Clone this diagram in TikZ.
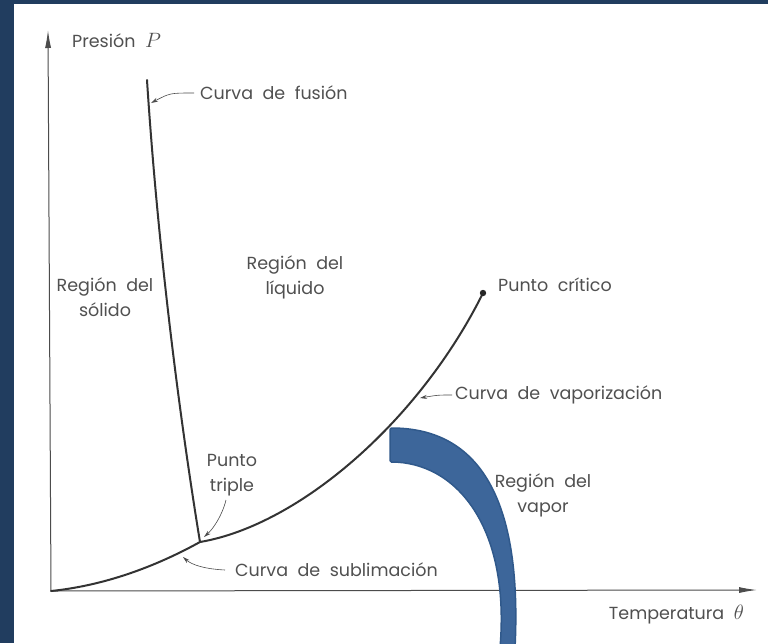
\documentclass[tikz,border=0pt]{standalone}
\usepackage{fontspec}
\setmainfont{Poppins}
\usetikzlibrary{arrows.meta}
\definecolor{frameblue}{HTML}{213D5F}
\definecolor{ink}{HTML}{505050}
\definecolor{arcfill}{HTML}{3D669A}
\definecolor{arcedge}{HTML}{30598B}
\newcommand\lblfont{\fontsize{17.5}{25}\selectfont\setlength{\spaceskip}{9.5pt plus 2pt minus 1pt}}
\newcommand\mathbig{\fontsize{20}{25}\selectfont}
\begin{document}
\begin{tikzpicture}[x=1pt,y=-1pt,
  lbl/.style={font=\lblfont, text=ink, inner sep=0pt},
  curve/.style={line width=2pt, draw=black!80, line cap=round},
  axisline/.style={line width=1pt, draw=black!70, -{Latex[length=18pt,width=6pt]}},
  ptr/.style={line width=0.6pt, draw=black!70, -{Stealth[length=7pt,width=4pt]}}]
\useasboundingbox (0,0) rectangle (768,643);
\fill[frameblue] (0,0) rectangle (768,643);
\fill[white] (14,4) rectangle (768,643);

% key points
\coordinate (O) at (51,591);
\coordinate (Ytip) at (48,30);
\coordinate (Xtip) at (757,590);
\coordinate (T) at (200,542);
\coordinate (F) at (147,80);
\coordinate (C) at (483,293);

% axes
\draw[axisline] (O) -- (Ytip);
\draw[axisline] (O) -- (Xtip);

% phase curves
\draw[curve] (O) .. controls (110,585) and (162,563) .. (T);
\draw[curve] (T) .. controls (180,420) and (158,250) .. (F);
\draw[curve] (T) .. controls (300,525) and (420,420) .. (C);
\fill[black!85] (C) circle (3.2pt);

% labels
\node[lbl, anchor=west] (lp) at (72,40) {Presión {\mathbig$P$}};
\node[lbl, anchor=east] (lt) at (744,615) {Temperatura {\mathbig$\theta$}};
\node[lbl, anchor=west] (lfus) at (200,93) {Curva de fusión};
\node[lbl, align=center] (lsol) at (105,297) {Región del\\sólido};
\node[lbl, align=center] (lliq) at (295,277) {Región del\\líquido};
\node[lbl, anchor=west] (lcrit) at (498,285) {Punto crítico};
\node[lbl, anchor=west] (lvap) at (455,395) {Curva de vaporización};
\node[lbl, align=center] (ltrip) at (232,475) {Punto\\triple};
\node[lbl, align=center] (lrvap) at (543,495) {Región del\\vapor};
\node[lbl, anchor=west] (lsub) at (235,570) {Curva de sublimación};

% pointer arrows
\coordinate (pf) at (151,103);
\coordinate (pt) at (204,537);
\coordinate (ps) at (183,557);
\coordinate (pv) at (420,398);
\draw[ptr] ([xshift=-6pt]lfus.west) .. controls (170,93) .. (pf);
\draw[ptr] (226,500) .. controls (222,516) and (213,529) .. (pt);
\draw[ptr] ([xshift=-10pt]lsub.west) .. controls (205,569) and (192,565) .. (ps);
\draw[ptr] ([xshift=-3pt]lvap.west) .. controls (438,395) .. (pv);

% blue block arc
\begin{scope}
\clip (0,0) rectangle (768,643);
\filldraw[fill=arcfill, draw=arcedge, line width=1.5pt, rounded corners=1.5pt]
  (390,428) .. controls (480,428) and (522,500) .. (515,648)
  -- (500,648) .. controls (510,525) and (455,462) .. (390,462) -- cycle;
\end{scope}
\end{tikzpicture}
\end{document}
